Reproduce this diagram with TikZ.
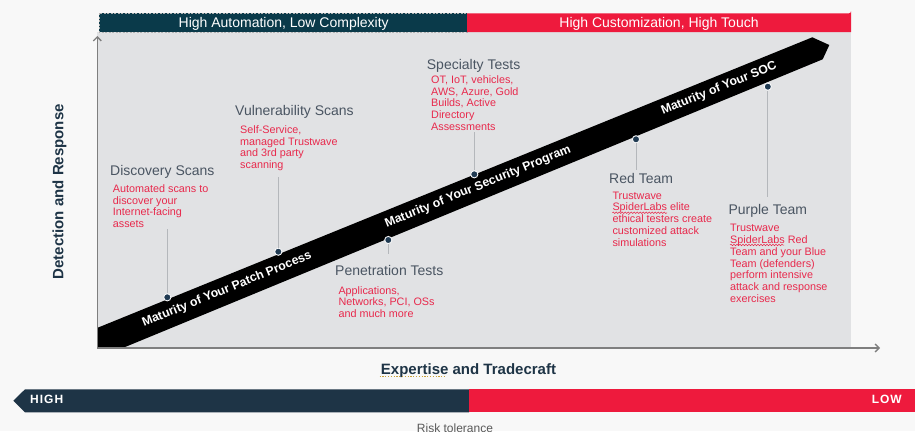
\documentclass[tikz,border=0pt]{standalone}
\usepackage{fontspec}
\setmainfont{Liberation Sans}
\usetikzlibrary{arrows.meta,decorations.pathmorphing}
\definecolor{bgc}{HTML}{F8F8F8}
\definecolor{panelc}{HTML}{E1E2E4}
\definecolor{tealc}{HTML}{0A3A4A}
\definecolor{twred}{HTML}{EE1A3D}
\definecolor{navyc}{HTML}{1E3446}
\definecolor{titlegray}{HTML}{4A5562}
\definecolor{descred}{HTML}{E8294C}
\definecolor{axisgray}{HTML}{7F7F7F}
\definecolor{linegray}{HTML}{B4B7BB}
\definecolor{dotc}{HTML}{1F3A52}
\definecolor{spellgold}{HTML}{C9A23A}
\begin{document}
\begin{tikzpicture}[x=1pt,y=-1pt,
  ttl/.style={anchor=base west, inner sep=0, font=\fontsize{14}{16}\selectfont, text=titlegray},
  desc/.style={anchor=north west, inner sep=0, align=left, font=\fontsize{10.8}{11.7}\selectfont, text=descred},
  dotnode/.style={circle, fill=dotc, draw=white!80!panelc, line width=0.9pt, minimum size=7.2pt, inner sep=0},
  conn/.style={draw=linegray, line width=0.7pt},
  bandtext/.style={text=white, font=\bfseries\fontsize{12.3}{14}\selectfont, rotate=22.2, inner sep=0},
  bartext/.style={anchor=base, inner sep=0, text=white, font=\fontsize{14}{16}\selectfont},
  axlabel/.style={inner sep=0, text=navyc, font=\bfseries\fontsize{15}{17}\selectfont},
  spell/.style={draw=descred, line width=0.5pt, decorate, decoration={snake, amplitude=0.8pt, segment length=3pt}},
  axisline/.style={draw=axisgray, line width=1.3pt, -{Straight Barb[length=4pt,width=8pt]}}
]
\useasboundingbox (0,0) rectangle (915,431);
\fill[bgc] (0,0) rectangle (915,431);

% panel
\fill[panelc] (97,32) rectangle (851,348);

% top bars
\fill[tealc] (99.3,13.3) rectangle (467,32);
\draw[draw=gray!60, line width=0.5pt, dash pattern=on 2pt off 1.5pt] (99.3,13.3) rectangle (467,32);
\fill[twred] (467,13.3) -- (849,13.3) arc[start angle=90, end angle=0, radius=2] -- (851,32) -- (467,32) -- cycle;
\node[bartext] (barL) at (283.7,27.6) {High Automation, Low Complexity};
\node[bartext] (barR) at (659,27.6) {High Customization, High Touch};

% band
\fill[black] (97,328) -- (812.3,37.3) -- (829.3,45) -- (822.7,59.3) -- (122.7,348) -- (97,348) -- cycle;
\node[bandtext] (b1) at (227,289.5) {Maturity of Your Patch Process};
\node[bandtext] (b2) at (478,187) {Maturity of Your Security Program};
\node[bandtext] (b3) at (719,88.5) {Maturity of Your SOC};

% axes
\coordinate (orig) at (97.3,348);
\coordinate (ytop) at (97.3,36);
\coordinate (xend) at (880,348);
\draw[axisline] (orig) -- (ytop);
\draw[axisline] (orig) -- (xend);

% titles
\node[ttl] (t1) at (110,175) {Discovery Scans};
\node[ttl] (t2) at (235,115) {Vulnerability Scans};
\node[ttl] (t3) at (335,275) {Penetration Tests};
\node[ttl] (t4) at (426.7,69) {Specialty Tests};
\node[ttl] (t5) at (609,183.3) {Red Team};
\node[ttl] (t6) at (728.3,214.3) {Purple Team};

% descriptions
\node[desc] (s1) at (112.7,183.8) {\rule{0pt}{8.5pt}Automated scans to\\discover your\\Internet-facing\\assets};
\node[desc] (s2) at (240,124.8) {\rule{0pt}{8.5pt}Self-Service,\\managed Trustwave\\and 3rd party\\scanning};
\node[desc] (s3) at (338.3,285.5) {\rule{0pt}{8.5pt}Applications,\\Networks, PCI, OSs\\and much more};
\node[desc] (s4) at (431,74.8) {\rule{0pt}{8.5pt}OT, IoT, vehicles,\\AWS, Azure, Gold\\Builds, Active\\Directory\\Assessments};
\node[desc] (s5) at (612.3,190.5) {\rule{0pt}{8.5pt}Trustwave\\SpiderLabs elite\\ethical testers create\\customized attack\\simulations};
\node[desc] (s6) at (730,223.2) {\rule{0pt}{8.5pt}Trustwave\\SpiderLabs Red\\Team and your Blue\\Team (defenders)\\perform intensive\\attack and response\\exercises};

% spellcheck marks
\draw[spell] (612.3,212.8) -- (667,212.8);
\draw[spell] (730,245) -- (784,245);

% dots and connectors
\coordinate (e1) at (167.3,229);
\coordinate (e2) at (278.3,177);
\coordinate (e3) at (388.3,254);
\coordinate (e4) at (474.3,131.7);
\coordinate (e5) at (636,170);
\coordinate (e6) at (767.8,197);
\node[dotnode] (d1) at (167.3,297.3) {};
\node[dotnode] (d2) at (278.3,251.7) {};
\node[dotnode] (d3) at (388.3,240) {};
\node[dotnode] (d4) at (474.3,174.3) {};
\node[dotnode] (d5) at (636,139.3) {};
\node[dotnode] (d6) at (767.8,86.7) {};
\draw[conn] (d1) -- (e1);
\draw[conn] (d2) -- (e2);
\draw[conn] (d3) -- (e3);
\draw[conn] (d4) -- (e4);
\draw[conn] (d5) -- (e5);
\draw[conn] (d6) -- (e6);

% axis labels
\node[axlabel, anchor=base, rotate=90] (ylab) at (63.3,191.7) {Detection and Response};
\node[axlabel, anchor=base] (xlab) at (468.5,374) {Expertise and Tradecraft};
\draw[draw=spellgold, line width=1.2pt, dash pattern=on 1.2pt off 1.6pt] (379.5,376.8) -- (446.5,376.8);

% bottom risk bar
\fill[navyc] (13.3,400.7) -- (25,389.3) -- (469,389.3) -- (469,412.3) -- (25,412.3) -- cycle;
\fill[twred] (469,389.3) rectangle (915,412.3);
\node[anchor=base west, inner sep=0, text=white, font=\bfseries\fontsize{12}{14}\selectfont] (high) at (30,403.5) {H\kern1pt I\kern1pt G\kern1pt H};
\node[anchor=base east, inner sep=0, text=white, font=\bfseries\fontsize{12}{14}\selectfont] (low) at (902,403.5) {L\kern1pt O\kern1pt W};
\node[anchor=base, inner sep=0, text=black!65, font=\fontsize{12}{14}\selectfont] (risk) at (455,432) {Risk tolerance};
\end{tikzpicture}
\end{document}
